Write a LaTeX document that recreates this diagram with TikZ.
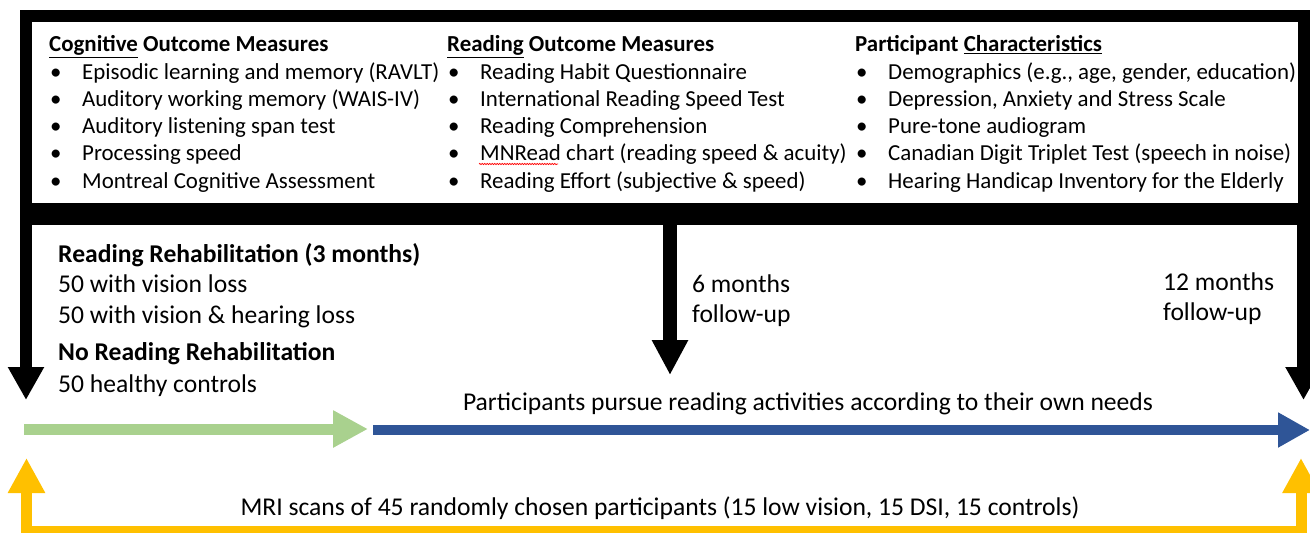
\documentclass[tikz,border=0pt]{standalone}
\usepackage{fontspec}
\setmainfont{Carlito}
\usetikzlibrary{arrows.meta,decorations.pathmorphing}
\definecolor{lgreen}{HTML}{A9D18E}
\definecolor{dblue}{HTML}{2F5597}
\definecolor{amber}{HTML}{FFC000}
\newcommand{\measfont}{\fontsize{22.9}{27.3}\selectfont}
\newcommand{\lowfont}{\fontsize{25.6}{30}\selectfont}
\newcommand{\itemcol}[6]{%
  \begin{tabular}[t]{@{\hspace{1pt}}p{32pt}@{}l@{}}
    \multicolumn{2}{@{}l@{}}{\textbf{#1}}\\
    \textbullet & #2\\ \textbullet & #3\\ \textbullet & #4\\
    \textbullet & #5\\ \textbullet & #6
  \end{tabular}}
\begin{document}
\begin{tikzpicture}[x=1pt,y=-1pt,
  meascol/.style={anchor=base west, inner sep=0pt, font=\measfont},
  lowtxt/.style={anchor=base west, inner sep=0pt, font=\lowfont},
  downarrow/.style={draw=black, -{Triangle[length=33pt,width=34pt]}},
  ]
\useasboundingbox (0,0) rectangle (1310,533);

% measures frame with its thick lower bar
\node[draw=black, line width=12pt, inner sep=0pt, minimum width=1277.5pt,
      minimum height=193pt] (box) at (664.75,112.5) {};
\fill[black] (20,203) rectangle (1309.5,225);

% three columns of measures
\node[meascol] (cog) at (49,51.7) {\itemcol{\underline{Cognitive} Outcome Measures}
  {Episodic learning and memory (RAVLT)}
  {Auditory working memory (WAIS-IV)}
  {Auditory listening span test}
  {Processing speed}
  {Montreal Cognitive Assessment}};
\node[meascol] (rd) at (447,51.7) {\itemcol{\underline{Reading} Outcome Measures}
  {Reading Habit Questionnaire}
  {International Reading Speed Test}
  {Reading Comprehension}
  {MNRead chart (reading speed \& acuity)}
  {Reading Effort (subjective \& speed)}};
\node[meascol] (pc) at (855,51.7) {\itemcol{Participant \underline{Characteristics}}
  {Demographics (e.g., age, gender, education)}
  {Depression, Anxiety and Stress Scale}
  {Pure-tone audiogram}
  {Canadian Digit Triplet Test (speech in noise)}
  {Hearing Handicap Inventory for the Elderly}};
\draw[red, line width=0.7pt, decorate,
      decoration={snake, amplitude=0.7pt, segment length=2.5pt}]
  (479,164) -- (558,164);

% timeline anchors
\coordinate (l0) at (26,225);    \coordinate (l1) at (26,400);
\coordinate (m0) at (670,225);   \coordinate (m1) at (670,375);
\coordinate (r0) at (1303.5,225);\coordinate (r1) at (1303.5,400);

\draw[downarrow, line width=12pt] (l0) -- (l1);
\draw[downarrow, line width=14pt, -{Triangle[length=35pt,width=34pt]}] (m0) -- (m1);
\draw[downarrow, line width=13pt] (r0) -- (r1);

% group descriptions
\node[lowtxt] (rr)  at (58,262) {\textbf{Reading Rehabilitation (3 months)}};
\node[lowtxt] (rr1) at (58,292) {50 with vision loss};
\node[lowtxt] (rr2) at (58,323) {50 with vision \& hearing loss};
\node[lowtxt] (nr)  at (58,360) {\textbf{No Reading Rehabilitation}};
\node[lowtxt] (nr1) at (58,392) {50 healthy controls};

\node[lowtxt] (fu6) at (692,292)
  {\begin{tabular}[t]{@{}l@{}}6 months\\follow-up\end{tabular}};
\node[lowtxt] (fu12) at (1163,290)
  {\begin{tabular}[t]{@{}l@{}}12 months\\follow-up\end{tabular}};

% rehabilitation phase and free reading phase
\coordinate (g0) at (24,429);  \coordinate (g1) at (368,429);
\coordinate (b0) at (373,430); \coordinate (b1) at (1310,430);
\draw[lgreen, line width=11pt, -{Triangle[length=35pt,width=35pt]}] (g0) -- (g1);
\draw[dblue, line width=10pt, -{Triangle[length=32pt,width=33pt]}] (b0) -- (b1);
\node[lowtxt, anchor=base] (free) at (808,410)
  {Participants pursue reading activities according to their own needs};

% MRI bracket
\coordinate (y0) at (26.5,458); \coordinate (y1) at (26.5,531);
\coordinate (y2) at (1301,531); \coordinate (y3) at (1301,458);
\draw[amber, line width=11pt, line join=miter,
      {Triangle[length=35pt,width=35pt]}-{Triangle[length=35pt,width=35pt]}]
  (y0) -- (y1) -- (y2) -- (y3);
\node[lowtxt, anchor=base] (mri) at (660,515)
  {MRI scans of 45 randomly chosen participants (15 low vision, 15 DSI, 15 controls)};
\end{tikzpicture}
\end{document}
